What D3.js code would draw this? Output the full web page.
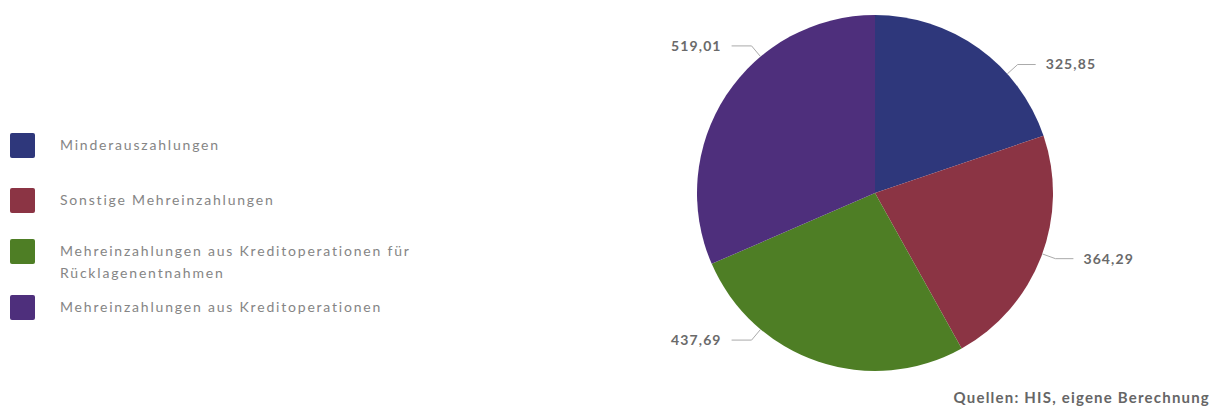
<!DOCTYPE html>
<html>
<head>
<meta charset="utf-8">
<script src="https://cdn.jsdelivr.net/npm/d3@7"></script>
<style>
  body { margin: 0; background: #fff; }
  text { font-family: "Lato", "DejaVu Sans", sans-serif; }
</style>
</head>
<body>
<div id="chart"></div>
<script>
// data
var categories = ["Minderauszahlungen", "Sonstige Mehreinzahlungen",
                  "Mehreinzahlungen aus Kreditoperationen für Rücklagenentnahmen",
                  "Mehreinzahlungen aus Kreditoperationen"];
var values = [325.85, 364.29, 437.69, 519.01];
var valueLabels = ["325,85", "364,29", "437,69", "519,01"];
var legendLines = [["Minderauszahlungen"], ["Sonstige Mehreinzahlungen"],
                   ["Mehreinzahlungen aus Kreditoperationen für", "Rücklagenentnahmen"],
                   ["Mehreinzahlungen aus Kreditoperationen"]];
var colors = ["#2e377b", "#8b3444", "#4e7e25", "#4e2f7c"];

// layout: where each leader line touches the pie (degrees, clockwise from top)
var labelAngles = [48, 110, 220, 320];
var legendY = [145, 200, 251, 307];

var width = 1213, height = 409;
var cx = 875, cy = 193, r = 178;

var svg = d3.select("#chart")
            .append("svg")
              .attr("width", width)
              .attr("height", height);

var pie = d3.pie().sort(null).value(function(d) { return d; });
var arc = d3.arc().innerRadius(0).outerRadius(r);
var arcs = pie(values);

var g = svg.append("g")
           .attr("transform", "translate(" + cx + "," + cy + ")");

g.selectAll("path.slice")
  .data(arcs)
  .enter()
  .append("path")
    .attr("class", "slice")
    .attr("d", arc)
    .attr("fill", function(d, i) { return colors[i]; });

// leader lines + labels
function pt(angDeg, rad) {
  var a = angDeg * Math.PI / 180;
  return [rad * Math.sin(a), -rad * Math.cos(a)];
}

arcs.forEach(function(d, i) {
  var ang = labelAngles[i];
  var p0 = pt(ang, r);
  var p1 = pt(ang, r + 14);
  var right = ang < 180;
  var p2 = [p1[0] + (right ? 18 : -20), p1[1]];
  g.append("polyline")
    .attr("points", [p0, p1, p2].map(function(p) { return p.join(","); }).join(" "))
    .attr("fill", "none")
    .attr("stroke", "#aaa")
    .attr("stroke-width", 1);
  g.append("text")
    .attr("x", p2[0] + (right ? 10 : -10))
    .attr("y", p2[1])
    .attr("dy", "0.35em")
    .attr("text-anchor", right ? "start" : "end")
    .attr("font-size", "14px")
    .attr("font-weight", "bold")
    .attr("letter-spacing", "1.1px")
    .attr("fill", "#6a6a6a")
    .text(valueLabels[i]);
});

// legend
var legend = svg.append("g");
categories.forEach(function(c, i) {
  legend.append("rect")
    .attr("x", 10)
    .attr("y", legendY[i] - 12)
    .attr("width", 25)
    .attr("height", 25)
    .attr("rx", 2)
    .attr("fill", colors[i]);
  legendLines[i].forEach(function(line, j) {
    legend.append("text")
      .attr("x", 60)
      .attr("y", legendY[i] + j * 22)
      .attr("dy", "0.35em")
      .attr("font-size", "14px")
      .attr("letter-spacing", "1.8px")
      .attr("fill", "#858585")
      .text(line);
  });
});

svg.append("text")
  .attr("x", 1210)
  .attr("y", 398)
  .attr("dy", "0.35em")
  .attr("text-anchor", "end")
  .attr("font-size", "15px")
  .attr("font-weight", "bold")
  .attr("letter-spacing", "1.2px")
  .attr("fill", "#666")
  .text("Quellen: HIS, eigene Berechnung");
</script>
</body>
</html>
